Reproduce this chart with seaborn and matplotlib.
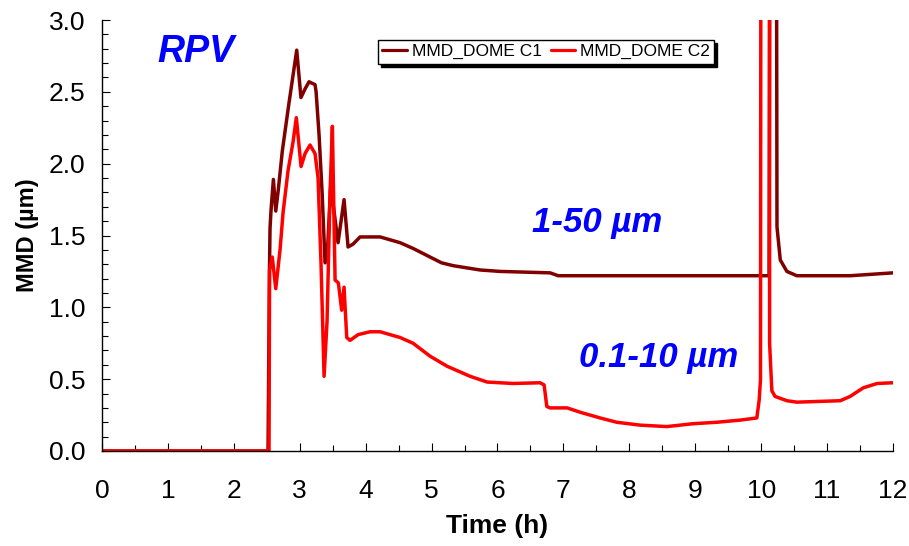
import matplotlib
matplotlib.use("Agg")
import matplotlib.pyplot as plt
from matplotlib.ticker import MultipleLocator
import seaborn as sns
import pandas as pd

# ---- data ----
t_c1 = [0.0, 2.519, 2.540, 2.549, 2.565, 2.600, 2.636, 2.675, 2.736, 2.836, 2.954,
        3.018, 3.080, 3.141, 3.232, 3.248, 3.293, 3.339, 3.384, 3.414, 3.470, 3.581,
        3.672, 3.733, 3.809, 3.915, 4.219, 4.522, 4.719, 4.977, 5.150, 5.326, 5.736, 6.039,
        6.798, 6.920, 9.985, 10.12, 10.136, 10.228, 10.240, 10.290, 10.39, 10.54,
        11.35, 12.0]
v_c1 = [0.0, 0.0, 1.24, 1.55, 1.68, 1.89, 1.67, 1.82, 2.09, 2.42, 2.79,
        2.46, 2.52, 2.57, 2.55, 2.50, 2.20, 1.80, 1.31, 1.33, 1.85, 1.45,
        1.75, 1.42, 1.44, 1.49, 1.49, 1.45, 1.41, 1.35, 1.31, 1.29, 1.26, 1.25,
        1.24, 1.22, 1.22, 1.22, 5.0, 5.0, 1.56, 1.33, 1.25, 1.22,
        1.22, 1.24]

t_c2 = [0.0, 2.534, 2.542, 2.583, 2.636, 2.701, 2.747, 2.822, 2.898, 2.948, 3.020,
        3.080, 3.156, 3.232, 3.278, 3.323, 3.369, 3.414, 3.460, 3.495, 3.536, 3.586,
        3.636, 3.672, 3.713, 3.763, 3.885, 4.067, 4.219, 4.522, 4.719, 4.977, 5.235,
        5.584, 5.842, 6.237, 6.646, 6.707, 6.748, 6.798, 7.056, 7.253, 7.557, 7.810,
        8.164, 8.569, 8.968, 9.327, 9.681, 9.934, 9.970, 9.990, 9.998, 10.126, 10.128,
        10.162, 10.21, 10.39, 10.54, 11.20, 11.35, 11.55, 11.76, 12.0]
v_c2 = [0.0, 0.0, 1.26, 1.35, 1.13, 1.40, 1.66, 1.95, 2.15, 2.32, 1.98,
        2.07, 2.13, 2.07, 1.90, 1.30, 0.52, 0.90, 1.80, 2.26, 1.19, 1.17,
        0.98, 1.14, 0.79, 0.77, 0.81, 0.83, 0.83, 0.79, 0.75, 0.66, 0.59,
        0.52, 0.48, 0.47, 0.475, 0.46, 0.31, 0.30, 0.30, 0.27, 0.23, 0.20,
        0.18, 0.17, 0.19, 0.20, 0.215, 0.23, 0.355, 0.50, 5.0, 5.0, 0.75,
        0.42, 0.38, 0.35, 0.34, 0.35, 0.38, 0.44, 0.47, 0.475]

series_names = ["MMD_DOME C1", "MMD_DOME C2"]
series_colors = ["#800000", "#FF0000"]
x_ticks = list(range(0, 13))
y_ticks = [0.0, 0.5, 1.0, 1.5, 2.0, 2.5, 3.0]

df = pd.concat([
    pd.DataFrame({"Time": t_c1, "MMD": v_c1, "series": series_names[0]}),
    pd.DataFrame({"Time": t_c2, "MMD": v_c2, "series": series_names[1]}),
], ignore_index=True)

sns.set_style("white")
plt.rcParams["font.family"] = ["Liberation Sans", "DejaVu Sans"]
plt.rcParams["text.color"] = "black"
plt.rcParams["axes.labelcolor"] = "black"
plt.rcParams["xtick.color"] = "black"
plt.rcParams["ytick.color"] = "black"

fig = plt.figure(figsize=(9.09, 5.46), dpi=100)
ax = fig.add_axes([102 / 909, 1 - 451 / 546, 791 / 909, 431 / 546])

sns.lineplot(data=df, x="Time", y="MMD", hue="series", palette=series_colors,
             hue_order=series_names, sort=False, estimator=None,
             linewidth=2.5, ax=ax, legend=False)

ax.set_xlim(0, 12)
ax.set_ylim(0, 3.0)
ax.set_xticks(x_ticks)
ax.set_yticks(y_ticks)
ax.set_yticklabels([f"{v:.1f}" for v in y_ticks])
ax.xaxis.set_minor_locator(MultipleLocator(0.5))
ax.yaxis.set_minor_locator(MultipleLocator(0.1))
ax.tick_params(axis="both", which="both", direction="in", color="black", width=0.8,
               bottom=True, left=True, top=False, right=False)
ax.tick_params(axis="both", which="major", length=6)
ax.tick_params(axis="both", which="minor", length=4)
ax.tick_params(axis="y", which="major", labelsize=19, pad=12, labelcolor="black")
ax.tick_params(axis="x", which="major", labelsize=19, pad=20, labelcolor="black")

for s in ["top", "right"]:
    ax.spines[s].set_visible(False)
for s in ["left", "bottom"]:
    ax.spines[s].set_color("black")
    ax.spines[s].set_linewidth(1.0)

ax.set_xlabel("Time (h)", fontsize=19, fontweight="bold", labelpad=8)
ax.set_ylabel("MMD (µm)", fontsize=17, fontweight="bold", labelpad=7)

handles = [plt.Line2D([], [], color=c, lw=2.3) for c in series_colors]
leg = ax.legend(handles, series_names, ncol=2, loc="upper left",
                bbox_to_anchor=(0.349, 0.954), borderaxespad=0, frameon=True,
                fancybox=False, edgecolor="black", shadow={"color": "black", "alpha": 1},
                fontsize=12.5, handlelength=1.4, handletextpad=0.3, columnspacing=0.5,
                borderpad=0.25)
leg.get_frame().set_linewidth(1.0)

ax.text(1.43, 2.78, "RPV", color="#0000FF", fontsize=27, fontweight="bold",
        fontstyle="italic", ha="center", va="center")
ax.text(7.51, 1.59, "1-50 µm", color="#0000FF", fontsize=25, fontweight="bold",
        fontstyle="italic", ha="center", va="center")
ax.text(8.44, 0.65, "0.1-10 µm", color="#0000FF", fontsize=25, fontweight="bold",
        fontstyle="italic", ha="center", va="center")

fig.savefig("out.png", dpi=100)
